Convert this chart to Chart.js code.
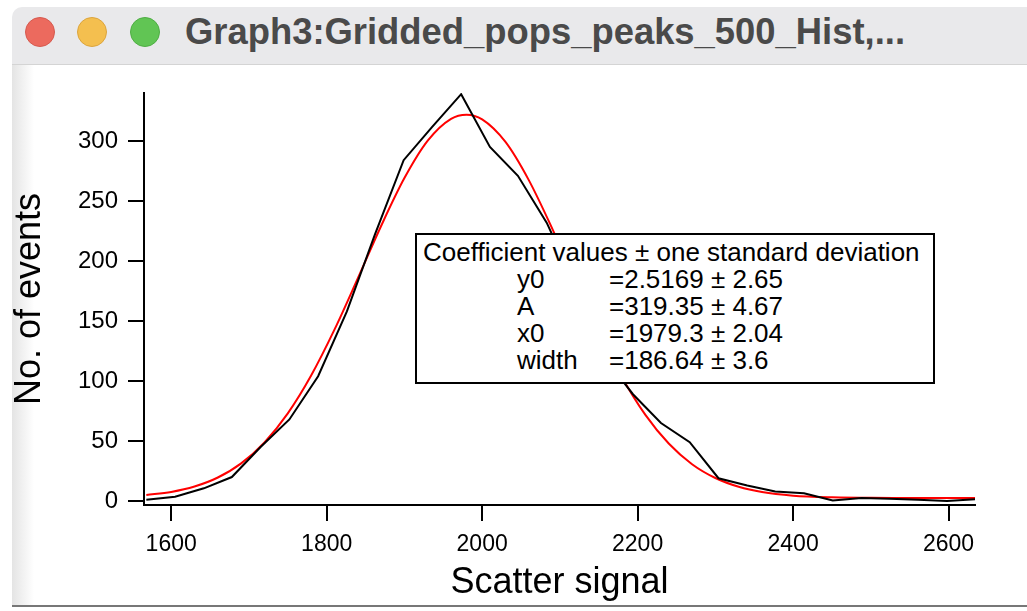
<!DOCTYPE html>
<html lang="en">
<head>
  <meta charset="UTF-8">
  <title>Graph3:Gridded_pops_peaks_500_Hist</title>
  <script src="https://cdn.jsdelivr.net/npm/chart.js"></script>
  <style>
    body { margin: 0; width: 1027px; height: 611px; overflow: hidden; background: #fff; font-family: "Liberation Sans", Arial, sans-serif; position: relative; }
    #titlebar { position: absolute; left: 12px; top: 7px; width: 1015px; height: 57px; background: #e9e9eb; border-bottom: 1px solid #d4d4d4; border-top-left-radius: 10px; }
    .dot { position: absolute; top: 10px; width: 30px; height: 30px; border-radius: 50%; box-sizing: border-box; }
    #title { position: absolute; left: 173px; top: 6px; font-size: 36.4px; line-height: 38px; font-weight: bold; color: #4a4a4a; white-space: nowrap; }
    #win { position: absolute; left: 12px; top: 65px; width: 1015px; height: 540px; background: linear-gradient(to right, #e4e4e4 0px, #ffffff 22px); border-bottom: 2px solid #777; }
    #wrap { position: absolute; left: 12px; top: 65px; width: 1015px; height: 546px; }
    #coef { position: absolute; left: 415px; top: 233px; width: 516px; height: 147px; background: #fff; border: 2px solid #000; font-size: 26px; color: #000; }
    #coef div { position: absolute; white-space: nowrap; line-height: 27px; }
  </style>
</head>
<body>

  <div id="titlebar">
    <div class="dot" style="left:13px;background:#ec6a5e;border:1px solid #d65a4f"></div>
    <div class="dot" style="left:65px;background:#f4bf4f;border:1px solid #dca53e"></div>
    <div class="dot" style="left:118px;background:#61c554;border:1px solid #4fae44"></div>
    <div id="title">Graph3:Gridded_pops_peaks_500_Hist,...</div>
  </div>
  <div id="win"></div>
  <div id="wrap"><canvas id="graph" width="1015" height="546"></canvas></div>
  <div id="coef"></div>

  <script>
    // histogram (black)
    const histX = [1568, 1605, 1642, 1678, 1715, 1752, 1789, 1826, 1862, 1899,
                   1936, 1973, 2010, 2046, 2083, 2120, 2157, 2194, 2230, 2267,
                   2304, 2341, 2377, 2414, 2451, 2488, 2524, 2561, 2598, 2634];
    const histY = [1, 3.6, 10.6, 20, 45, 68, 104, 158, 222, 284,
                   312, 339, 295, 271, 232, 180, 120, 89, 65, 49,
                   19, 13, 8, 6.5, 0.5, 2.5, 2, 1, 0, 1.5];

    // gaussian fit (red)
    const fitX = [1568, 1600, 1630, 1660, 1690, 1720, 1750, 1780, 1810, 1840,
                  1870, 1900, 1930, 1960, 1980, 2000, 2030, 2060, 2090, 2120,
                  2150, 2180, 2210, 2240, 2270, 2300, 2330, 2360, 2400, 2450,
                  2500, 2550, 2600, 2634];
    const fitY = [5.0, 7.6, 12.1, 19.6, 31.4, 48.9, 73.1, 104.6, 142.8, 185.5,
                  229.2, 269.1, 300.3, 318.5, 321.9, 318.0, 299.2, 267.4, 227.2, 183.4,
                  140.9, 103.0, 71.8, 47.9, 30.7, 19.2, 11.9, 7.5, 4.5, 3.1,
                  2.65, 2.6, 2.5, 2.5];

    const xTicks = [1600, 1800, 2000, 2200, 2400, 2600];
    const yTicks = [0, 50, 100, 150, 200, 250, 300];

    const coefNames = ['y0', 'A', 'x0', 'width'];
    const coefValues = ['2.5169', '319.35', '1979.3', '186.64'];
    const coefErrors = ['2.65', '4.67', '2.04', '3.6'];

    // coefficient box
    const box = document.getElementById('coef');
    let html = '<div style="left:6px;top:4px">Coefficient values \u00b1 one standard deviation</div>';
    coefNames.forEach((n, i) => {
      const top = 31 + i * 27;
      html += `<div style="left:100px;top:${top}px">${n}</div>`;
      html += `<div style="left:192px;top:${top}px">=${coefValues[i]} \u00b1 ${coefErrors[i]}</div>`;
    });
    box.innerHTML = html;

    const family = '"Liberation Sans", Arial, sans-serif';

    new Chart(document.getElementById('graph').getContext('2d'), {
      type: 'line',
      data: {
        datasets: [
          {
            data: histX.map((x, i) => ({ x: x, y: histY[i] })),
            borderColor: '#000',
            borderWidth: 2,
            pointRadius: 0,
            tension: 0
          },
          {
            data: fitX.map((x, i) => ({ x: x, y: fitY[i] })),
            borderColor: '#ff0000',
            borderWidth: 2,
            pointRadius: 0,
            cubicInterpolationMode: 'monotone'
          }
        ]
      },
      options: {
        responsive: false,
        animation: false,
        layout: { padding: { top: 28, right: 52, left: 0, bottom: 0 } },
        plugins: { legend: { display: false }, tooltip: { enabled: false } },
        scales: {
          x: {
            type: 'linear',
            min: 1565,
            max: 2634,
            afterFit: s => { s.height = 106; },
            afterBuildTicks: s => { s.ticks = xTicks.map(v => ({ value: v })); },
            grid: { drawOnChartArea: false, drawTicks: true, tickLength: 16, color: '#000', lineWidth: 2 },
            border: { display: true, color: '#000', width: 2 },
            ticks: { color: '#000', font: { family: family, size: 23 }, padding: 10, maxRotation: 0,
                     callback: v => String(v) },
            title: { display: true, text: 'Scatter signal', color: '#000',
                     font: { family: family, size: 36, lineHeight: 1 }, padding: { top: 0, bottom: 10 } }
          },
          y: {
            type: 'linear',
            min: -3.3,
            max: 340,
            afterFit: s => { s.width = 132; },
            afterBuildTicks: s => { s.ticks = yTicks.map(v => ({ value: v })); },
            grid: { drawOnChartArea: false, drawTicks: true, tickLength: 16, color: '#000', lineWidth: 2 },
            border: { display: true, color: '#000', width: 2 },
            ticks: { color: '#000', font: { family: family, size: 24 }, padding: 10,
                     callback: v => String(v) },
            title: { display: true, text: 'No. of events', color: '#000',
                     font: { family: family, size: 36, lineHeight: 1 }, padding: { top: 0, bottom: 0 } }
          }
        }
      }
    });
  </script>

</body>
</html>
